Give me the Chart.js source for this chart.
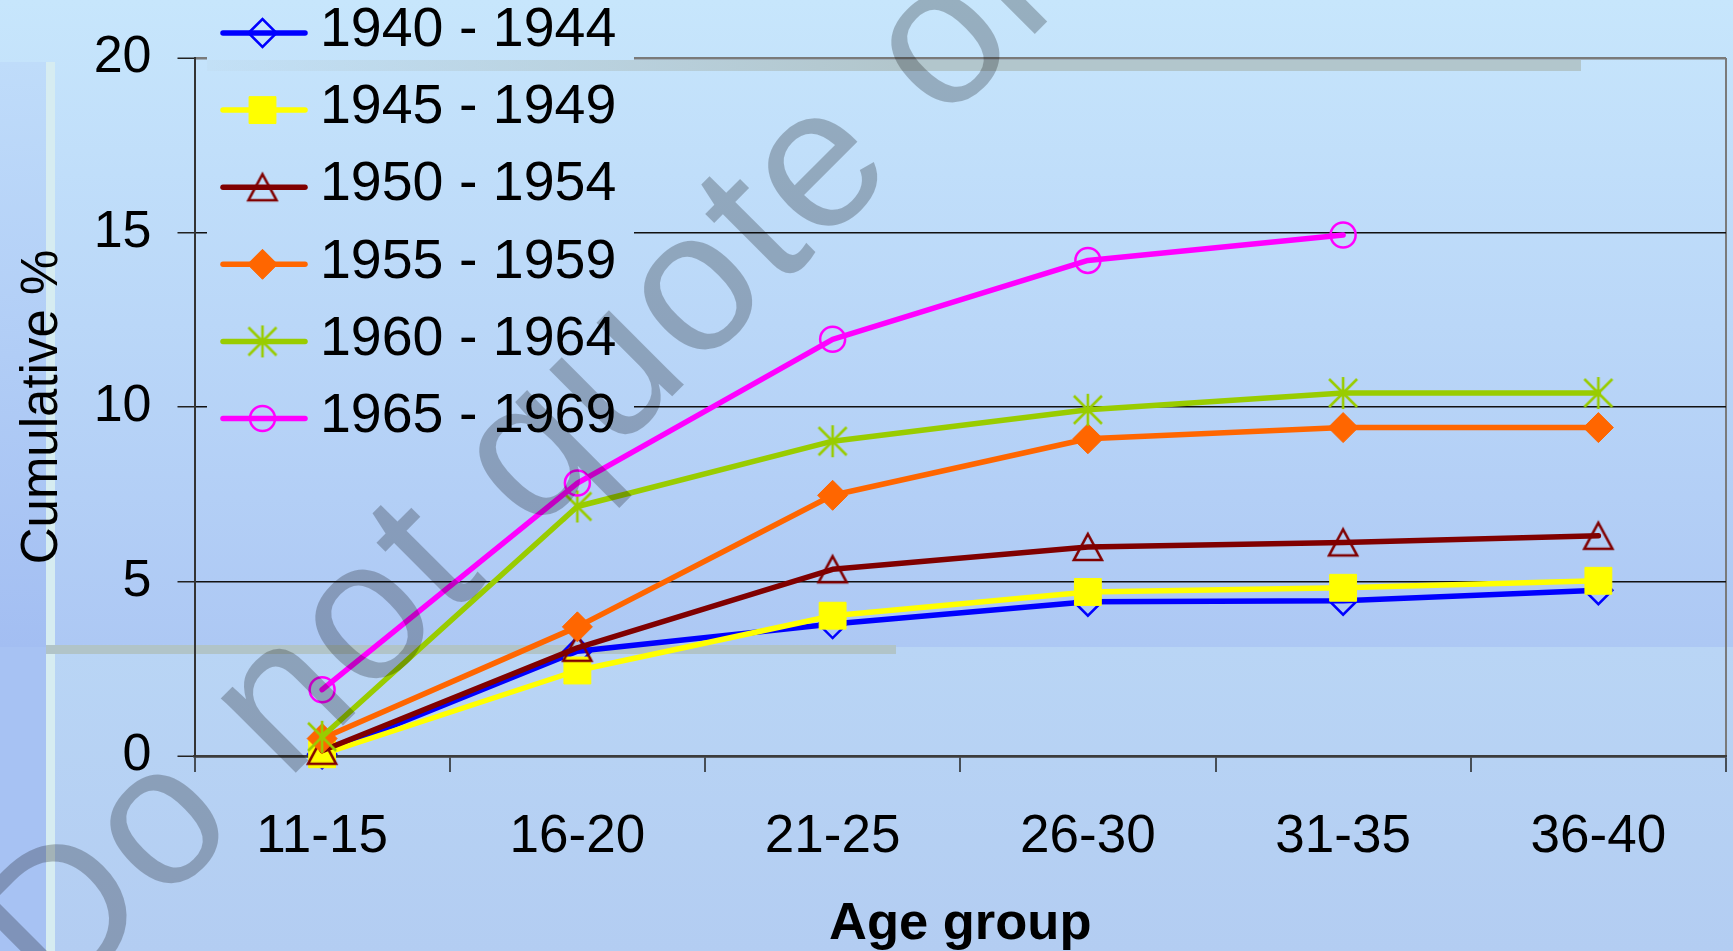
<!DOCTYPE html>
<html>
<head>
<meta charset="utf-8">
<script src="https://cdn.jsdelivr.net/npm/chart.js@4.4.1/dist/chart.umd.min.js"></script>
<style>
  html, body { margin: 0; padding: 0; background: #c0dcf8; overflow: hidden; }
  #wrap { width: 1733px; height: 951px; position: relative; }
  #cumChart { display: block; }
</style>
</head>
<body>
<div id="wrap"><canvas id="cumChart"></canvas></div>
<script>
// data
const ageGroups = ['11-15', '16-20', '21-25', '26-30', '31-35', '36-40'];
const cohorts = ['1940 - 1944', '1945 - 1949', '1950 - 1954', '1955 - 1959', '1960 - 1964', '1965 - 1969'];
const cohort1940 = [0.05, 3.0, 3.78, 4.42, 4.45, 4.75];
const cohort1945 = [0.05, 2.45, 4.02, 4.7, 4.82, 5.02];
const cohort1950 = [0.15, 3.1, 5.35, 5.99, 6.12, 6.31];
const cohort1955 = [0.5, 3.7, 7.47, 9.09, 9.41, 9.41];
const cohort1960 = [0.55, 7.15, 9.02, 9.92, 10.4, 10.4];
const cohort1965 = [1.9, 7.82, 11.94, 14.2, 14.93, null];
const yTicks = [0, 5, 10, 15, 20];

const FONT = '"Liberation Sans", Arial, sans-serif';
Chart.defaults.font.family = FONT;
Chart.defaults.color = '#000';

// little canvases for the markers chart.js doesn't have as such
function markerCanvas(kind, color) {
  const c = document.createElement('canvas');
  c.width = 36; c.height = 36;
  const g = c.getContext('2d');
  g.strokeStyle = color;
  g.lineWidth = 2.6;
  g.beginPath();
  if (kind === 'asterisk') {
    g.moveTo(18, 2); g.lineTo(18, 34);
    g.moveTo(4, 4); g.lineTo(32, 32);
    g.moveTo(32, 4); g.lineTo(4, 32);
  } else {
    g.moveTo(18, 5); g.lineTo(32, 31); g.lineTo(4, 31); g.closePath();
  }
  g.stroke();
  return c;
}

const series = [
  { data: cohort1940, color: '#0000FF', style: 'rectRot', r: 14, fill: 'rgba(0,0,0,0)', bw: 2.5 },
  { data: cohort1945, color: '#FFFF00', style: 'rect', r: 19, fill: '#FFFF00', bw: 1 },
  { data: cohort1950, color: '#800000', style: markerCanvas('triangle', '#800000'), r: 16, fill: 'rgba(0,0,0,0)', bw: 3 },
  { data: cohort1955, color: '#FF6600', style: 'rectRot', r: 15, fill: '#FF6600', bw: 1 },
  { data: cohort1960, color: '#99CC00', style: markerCanvas('asterisk', '#99CC00'), r: 16, fill: 'rgba(0,0,0,0)', bw: 2.5 },
  { data: cohort1965, color: '#FF00FF', style: 'circle', r: 12.5, fill: 'rgba(0,0,0,0)', bw: 2.5 }
];

function paintBackground(ctx, w, h) {
  let g = ctx.createLinearGradient(0, 0, 0, 647);
  g.addColorStop(0, '#c7e6fc');
  g.addColorStop(1, '#adc8f4');
  ctx.fillStyle = g;
  ctx.fillRect(0, 0, w, 647);
  g = ctx.createLinearGradient(0, 647, 0, h);
  g.addColorStop(0, '#b9d5f5');
  g.addColorStop(1, '#b3cdf2');
  ctx.fillStyle = g;
  ctx.fillRect(0, 647, w, h - 647);
  // left strip
  g = ctx.createLinearGradient(0, 62, 0, 647);
  g.addColorStop(0, '#bfdcfa');
  g.addColorStop(1, '#a3bef2');
  ctx.fillStyle = g;
  ctx.fillRect(0, 62, 46, 585);
  ctx.fillStyle = '#a7c2f3';
  ctx.fillRect(0, 647, 46, h - 647);
  ctx.fillStyle = '#d6ecf1';
  ctx.fillRect(46, 62, 9, h - 62);
  // greyish bands
  g = ctx.createLinearGradient(207, 0, 900, 0);
  g.addColorStop(0, 'rgba(178,198,204,0.1)');
  g.addColorStop(1, 'rgba(178,198,204,1)');
  ctx.fillStyle = g;
  ctx.fillRect(207, 60, 1581 - 207, 11);
  ctx.fillStyle = '#b1c4c8';
  ctx.fillRect(46, 645, 850, 9);
}

const backdrop = {
  id: 'backdrop',
  beforeDraw(chart) {
    paintBackground(chart.ctx, chart.width, chart.height);
  }
};

const cohortLegend = {
  id: 'cohortLegend',
  beforeDatasetsDraw(chart) {
    // legend box hides the gridlines behind it
    const ctx = chart.ctx;
    ctx.save();
    ctx.beginPath();
    ctx.rect(207, 0, 427, 460);
    ctx.clip();
    paintBackground(ctx, chart.width, chart.height);
    ctx.restore();
  },
  afterDatasetsDraw(chart) {
    const ctx = chart.ctx;
    chart.data.datasets.forEach((ds, i) => {
      const y = 33 + i * 77.1;
      ctx.save();
      ctx.strokeStyle = ds.borderColor;
      ctx.lineWidth = 5.5;
      ctx.lineCap = 'round';
      ctx.beginPath();
      ctx.moveTo(223, y);
      ctx.lineTo(305, y);
      ctx.stroke();
      ctx.fillStyle = ds.pointBackgroundColor;
      ctx.strokeStyle = ds.pointBorderColor;
      ctx.lineWidth = ds.pointBorderWidth;
      ctx.lineCap = 'butt';
      if (Chart.helpers && Chart.helpers.drawPoint) {
        Chart.helpers.drawPoint(ctx, {
          pointStyle: ds.pointStyle, radius: ds.pointRadius, rotation: 0, borderWidth: ds.pointBorderWidth
        }, 262.5, y);
      }
      ctx.fillStyle = '#000';
      ctx.font = '55.5px ' + FONT;
      ctx.textBaseline = 'middle';
      ctx.textAlign = 'left';
      ctx.fillText(ds.label, 320, y - 2);
      ctx.restore();
    });
  }
};

const watermark = {
  id: 'watermark',
  afterDraw(chart) {
    const ctx = chart.ctx;
    const size = 200, ls = 4;
    ctx.save();
    ctx.font = size + 'px ' + FONT;
    ctx.fillStyle = 'rgba(0,0,0,0.24)';
    ctx.translate(165, 830);
    ctx.rotate(-Math.PI / 4);
    const dW = ctx.measureText('D').width;
    const oW = ctx.measureText('o').width;
    if ('letterSpacing' in ctx) ctx.letterSpacing = ls + 'px';
    ctx.textBaseline = 'alphabetic';
    ctx.fillText('Do not quote or cite', -(dW + ls + oW / 2), 0.26 * size);
    ctx.restore();
  }
};

const ctx = document.getElementById('cumChart').getContext('2d');

new Chart(ctx, {
  type: 'line',
  data: {
    labels: ageGroups,
    datasets: series.map((s, i) => ({
      label: cohorts[i],
      data: s.data,
      borderColor: s.color,
      backgroundColor: s.color,
      borderWidth: 5.5,
      borderCapStyle: 'round',
      borderJoinStyle: 'round',
      tension: 0,
      fill: false,
      pointStyle: s.style,
      pointRadius: s.r,
      pointHoverRadius: s.r,
      pointBorderWidth: s.bw,
      pointBackgroundColor: s.fill,
      pointBorderColor: s.color,
      clip: false,
      order: series.length - i
    }))
  },
  options: {
    responsive: true,
    maintainAspectRatio: false,
    animation: false,
    events: [],
    layout: { autoPadding: false, padding: { top: 58, right: 7, left: 0, bottom: 0 } },
    plugins: {
      legend: { display: false },
      tooltip: { enabled: false }
    },
    scales: {
      x: {
        offset: true,
        grid: {
          offset: true,
          drawOnChartArea: true,
          color: (c) => c.type === 'tick' ? 'rgba(0,0,0,0)' : '#7a7a7a',
          lineWidth: 2,
          tickLength: 16,
          tickColor: '#222',
          tickWidth: 1.5
        },
        border: { display: true, color: '#3c3c3c', width: 2.5 },
        ticks: { color: '#000', font: { size: 53 }, padding: 33.5, maxRotation: 0, autoSkip: false },
        title: {
          display: true, text: 'Age group', color: '#000',
          font: { size: 52.5, weight: 'bold' }, padding: { top: 0, bottom: -5 }
        },
        afterFit: (s) => { s.height = 195; s.paddingLeft = 0; s.paddingRight = 0; }
      },
      y: {
        min: 0,
        max: 20,
        afterBuildTicks: (s) => { s.ticks = yTicks.map(v => ({ value: v })); },
        grid: {
          color: (c) => c.tick.value === 20 ? '#7a7a7a' : (c.tick.value === 0 ? '#3c3c3c' : '#111'),
          lineWidth: (c) => (c.tick.value === 20 || c.tick.value === 0) ? 2.5 : 1.5,
          tickLength: 17,
          tickColor: '#222',
          tickWidth: 1.5
        },
        border: { display: true, color: '#333', width: 2 },
        ticks: { color: '#000', font: { size: 52 }, padding: 26 },
        title: {
          display: true, text: 'Cumulative %', color: '#000',
          font: { size: 51 }, padding: { top: 12, bottom: 0 }
        },
        afterFit: (s) => { s.width = 194.5; }
      }
    }
  },
  plugins: [backdrop, cohortLegend, watermark]
});
</script>
</body>
</html>
